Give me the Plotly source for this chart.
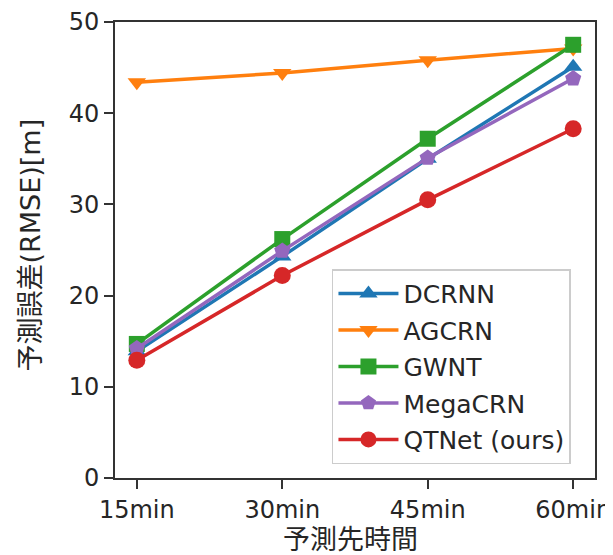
import plotly.graph_objects as go

categories = ["15min", "30min", "45min", "60min"]
dcrnn = [13.9, 24.3, 35.0, 45.1]
agcrn = [43.4, 44.4, 45.8, 47.1]
gwnt = [14.7, 26.2, 37.2, 47.5]
megacrn = [14.2, 24.9, 35.1, 43.8]
qtnet = [12.9, 22.2, 30.5, 38.3]

x_title = "予測先時間"
y_title = "予測誤差(RMSE)[m]"

series = [
    ("DCRNN", dcrnn, "#1f77b4", "triangle-up", 16),
    ("AGCRN", agcrn, "#ff7f0e", "triangle-down", 16),
    ("GWNT", gwnt, "#2ca02c", "square", 16),
    ("MegaCRN", megacrn, "#9467bd", "pentagon", 17),
    ("QTNet (ours)", qtnet, "#d62728", "circle", 17),
]

FONT = "DejaVu Sans, Noto Sans CJK JP, sans-serif"
TXT = "#262626"
TICK_SIZE = 24
LEGEND_SIZE = 25
TITLE_SIZE = 27

fig = go.Figure()
for name, vals, color, sym, sz in series:
    fig.add_trace(go.Scatter(
        x=categories, y=vals, name=name, mode="lines+markers",
        legendgroup=name,
        line=dict(color=color, width=3.5),
        marker=dict(symbol=sym, size=sz, color=color, line=dict(width=0)),
    ))

axis_common = dict(
    showline=True, linecolor="#333", linewidth=1.8, mirror=True,
    ticks="outside", ticklen=9, tickwidth=1.8, tickcolor="#333",
    showgrid=False, zeroline=False, automargin=False,
    ticklabeloverflow="allow",
    tickfont=dict(family=FONT, size=TICK_SIZE, color=TXT),
)

# page body has an 8px default margin, so the figure is sized to fit the window
fig.update_layout(
    width=605, height=547,
    margin=dict(l=107, r=18, t=14, b=77),
    paper_bgcolor="white", plot_bgcolor="white",
    font=dict(family=FONT, size=TICK_SIZE, color=TXT),
    xaxis=dict(type="category", range=[-0.15, 3.15], **axis_common),
    yaxis=dict(range=[0, 50], tickvals=[0, 10, 20, 30, 40, 50], **axis_common),
    legend=dict(x=0.452, y=0.458, xanchor="left", yanchor="top",
                bgcolor="rgba(255,255,255,0.8)", bordercolor="#cccccc", borderwidth=1.5,
                font=dict(family=FONT, size=LEGEND_SIZE, color=TXT), itemwidth=60,
                tracegroupgap=1),
    showlegend=True,
    annotations=[
        dict(text=y_title, xref="paper", yref="paper", x=-0.177, y=0.51,
             xanchor="center", yanchor="middle", textangle=-90, showarrow=False,
             font=dict(family=FONT, size=TITLE_SIZE, color=TXT)),
        dict(text=x_title, xref="paper", yref="paper", x=0.49, y=-0.135,
             xanchor="center", yanchor="middle", showarrow=False,
             font=dict(family=FONT, size=TITLE_SIZE, color=TXT)),
    ],
)

fig.write_html("out.html")
